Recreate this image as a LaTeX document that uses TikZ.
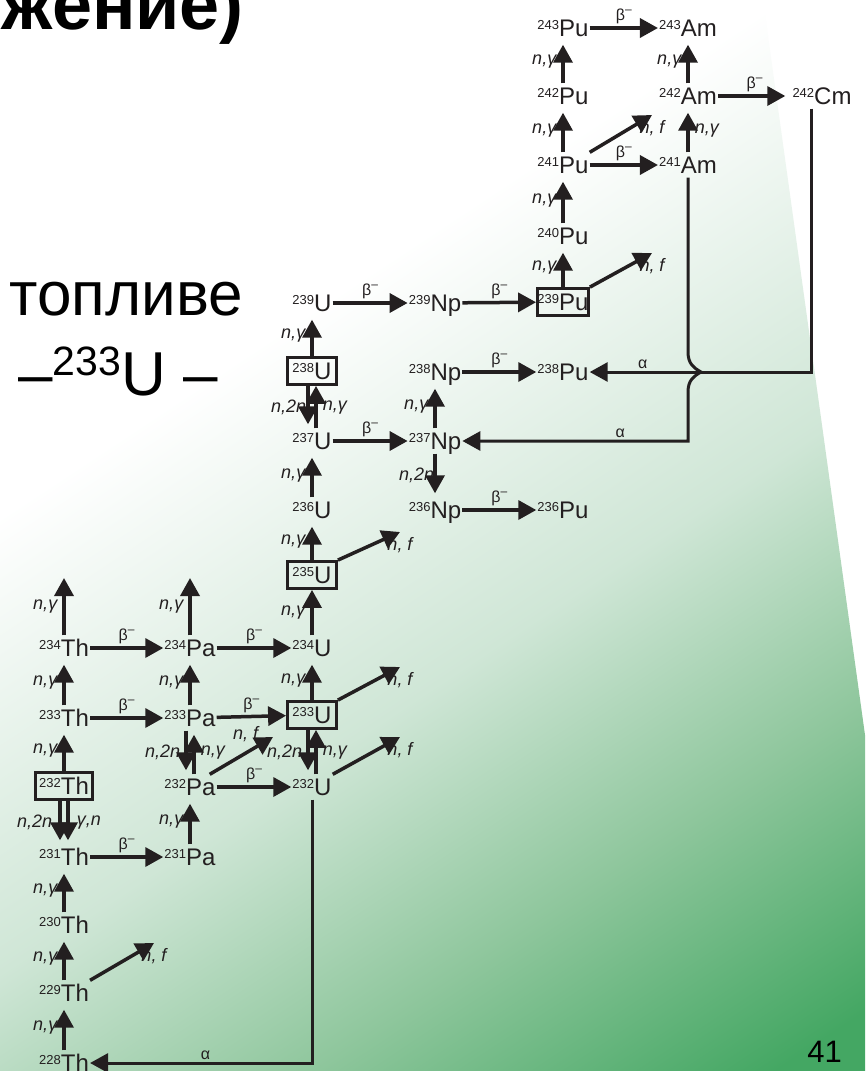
\documentclass[tikz,border=0pt]{standalone}
\usepackage{fontspec}
\setmainfont{Liberation Sans}
\usetikzlibrary{arrows.meta,calc}

\definecolor{ink}{HTML}{231F20}
\definecolor{fadelight}{HTML}{CFE6D6}
\definecolor{fademid}{HTML}{8EC69C}
\definecolor{fadegreen}{HTML}{44A763}

% slide background: white fading to green
\pgfdeclarehorizontalshading{slidefade}{100bp}{%
  color(0bp)=(white); color(42bp)=(white); color(54bp)=(fadelight);
  color(62bp)=(fademid); color(70bp)=(fadegreen); color(100bp)=(fadegreen)}

\newcommand{\iso}[2]{\raisebox{7.5pt}{\fontsize{13}{13}\selectfont#1}#2}
\newcommand{\betam}{β\raisebox{7pt}{\fontsize{12}{12}\selectfont –}}

\tikzset{
  nuc/.style={
    font=\fontsize{24}{24}\selectfont,
    text=ink,
    inner xsep=1pt,
    inner ysep=4pt,
    text height=17pt,
    text depth=0pt
  },
  fuel/.style={
    nuc,
    draw=ink,
    line width=2.8pt,
    inner xsep=5pt,
    inner ysep=5pt
  },
  rx/.style={draw=ink, line width=3.5pt, -{Triangle[length=18pt,width=19pt]}},
  vrx/.style={rx, shorten >=4pt},
  decay/.style={rx, line width=3pt},
  lbl/.style={font=\fontsize{18}{18}\selectfont\itshape, text=ink, inner sep=1pt},
  glbl/.style={font=\fontsize{16}{16}\selectfont, text=ink, inner sep=1pt},
  slidetext/.style={text=black, inner sep=0pt}
}

\begin{document}
\begin{tikzpicture}[x=1pt, y=-1pt]
  \useasboundingbox (0,0) rectangle (865,1071);
  \fill[white] (0,0) rectangle (865,1071);
  \begin{scope}
    \clip (0,505) -- (763,0) -- (865,735) -- (865,1071) -- (0,1071) -- cycle;
    \shade[shading=slidefade, shading angle=-56.5] (-368,-265) rectangle (1232,1335);
  \end{scope}

  % slide text around the chart
  \node[slidetext, anchor=base east, font=\fontsize{72}{72}\selectfont\bfseries] (heading) at (244,29) {жение)};
  \node[slidetext, anchor=base east, font=\fontsize{62}{62}\selectfont] (fueltext) at (243,315) {топливе};
  \node[slidetext, anchor=base west, font=\fontsize{62}{62}\selectfont] (chaintext) at (18,395) {–\raisebox{20pt}{\fontsize{41}{41}\selectfont 233}U –};
  \node[slidetext, anchor=base east, font=\fontsize{31}{31}\selectfont] (pageno) at (842,1062) {41};

  % thorium
  \node[nuc] (th234) at (64,648) {\iso{234}{Th}};
  \node[nuc] (th233) at (64,718) {\iso{233}{Th}};
  \node[fuel, inner xsep=4pt] (th232) at (64,786) {\iso{232}{Th}};
  \node[nuc] (th231) at (64,857) {\iso{231}{Th}};
  \node[nuc] (th230) at (64,925) {\iso{230}{Th}};
  \node[nuc] (th229) at (64,993) {\iso{229}{Th}};
  \node[nuc] (th228) at (64,1063) {\iso{228}{Th}};

  % protactinium
  \node[nuc] (pa234) at (190,648) {\iso{234}{Pa}};
  \node[nuc] (pa233) at (190,718) {\iso{233}{Pa}};
  \node[nuc] (pa232) at (190,787) {\iso{232}{Pa}};
  \node[nuc] (pa231) at (190,857) {\iso{231}{Pa}};

  % uranium
  \node[nuc] (u239) at (312,303) {\iso{239}{U}};
  \node[fuel] (u238) at (312,371) {\iso{238}{U}};
  \node[nuc] (u237) at (312,441) {\iso{237}{U}};
  \node[nuc] (u236) at (312,510) {\iso{236}{U}};
  \node[fuel] (u235) at (312,575) {\iso{235}{U}};
  \node[nuc] (u234) at (312,648) {\iso{234}{U}};
  \node[fuel] (u233) at (312,715) {\iso{233}{U}};
  \node[nuc] (u232) at (312,787) {\iso{232}{U}};

  % neptunium
  \node[nuc] (np239) at (435,303) {\iso{239}{Np}};
  \node[nuc] (np238) at (435,372) {\iso{238}{Np}};
  \node[nuc] (np237) at (435,441) {\iso{237}{Np}};
  \node[nuc] (np236) at (435,510) {\iso{236}{Np}};

  % plutonium
  \node[nuc] (pu243) at (563,28) {\iso{243}{Pu}};
  \node[nuc] (pu242) at (563,96) {\iso{242}{Pu}};
  \node[nuc] (pu241) at (563,165) {\iso{241}{Pu}};
  \node[nuc] (pu240) at (563,236) {\iso{240}{Pu}};
  \node[fuel, inner xsep=0pt] (pu239) at (563,302) {\iso{239}{Pu}};
  \node[nuc] (pu238) at (563,372) {\iso{238}{Pu}};
  \node[nuc] (pu236) at (563,510) {\iso{236}{Pu}};

  % americium, curium
  \node[nuc] (am243) at (688,28) {\iso{243}{Am}};
  \node[nuc] (am242) at (688,96) {\iso{242}{Am}};
  \node[nuc] (am241) at (688,165) {\iso{241}{Am}};
  \node[nuc] (cm242) at (822,96) {\iso{242}{Cm}};

  % open ends
  \coordinate (th235) at (64,578);
  \coordinate (pa235) at (190,578);
  \coordinate (nf229) at (154,943);
  \coordinate (nf232pa) at (273,737);
  \coordinate (nf232u) at (400,737);
  \coordinate (nf233) at (400,667);
  \coordinate (nf235) at (400,532);
  \coordinate (nf239) at (652,253);
  \coordinate (nf241) at (652,115);
  \coordinate (hop) at (am241 |- pu238);

  % thorium chain
  \draw[rx] (th234) -- node[lbl, left=4pt] {n,γ} (th235);
  \draw[vrx] (th233) -- node[lbl, left=4pt] {n,γ} (th234);
  \draw[vrx] (th232) -- node[lbl, left=4pt] {n,γ} (th233);
  \draw[vrx] ([xshift=-4pt]th232.south) -- node[lbl, left=5pt] {n,2n} ([xshift=-4pt]th231.north);
  \draw[vrx] ([xshift=4pt]th232.south) -- node[lbl, right=6pt] {γ,n} ([xshift=4pt]th231.north);
  \draw[vrx] (th230) -- node[lbl, left=4pt] {n,γ} (th231);
  \draw[vrx] (th229) -- node[lbl, left=4pt] {n,γ} (th230);
  \draw[vrx] (th228) -- node[lbl, left=4pt] {n,γ} (th229);
  \draw[rx] (th229.north east) -- (nf229) node[lbl, below=3pt] {n, f};
  \draw[rx] (th234) -- node[glbl, above=1pt] {\betam} (pa234);
  \draw[rx] (th233) -- node[glbl, above=1pt] {\betam} (pa233);
  \draw[rx] (th231) -- node[glbl, above=1pt] {\betam} (pa231);

  % protactinium chain
  \draw[rx] (pa234) -- node[lbl, left=4pt] {n,γ} (pa235);
  \draw[vrx] (pa233) -- node[lbl, left=4pt] {n,γ} (pa234);
  \draw[vrx] ([xshift=-4pt]pa233.south) -- node[lbl, left=3pt] {n,2n} ([xshift=-4pt]pa232.north);
  \draw[vrx] ([xshift=4pt]pa232.north) -- node[lbl, right=4pt] {n,γ} ([xshift=4pt]pa233.south);
  \draw[vrx] (pa231) -- node[lbl, left=4pt] {n,γ} (pa232);
  \draw[rx] ([xshift=-7pt]pa232.north east) -- (nf232pa) node[lbl, left=12pt, yshift=3pt] {n, f};
  \draw[rx] (pa234) -- node[glbl, above=1pt] {\betam} (u234);
  \draw[rx] (pa233) -- node[glbl, above=1pt] {\betam} (u233);
  \draw[rx] (pa232) -- node[glbl, above=1pt] {\betam} (u232);

  % uranium chain
  \draw[vrx] ([xshift=-4pt]u233.south) -- node[lbl, left=3pt] {n,2n} ([xshift=-4pt]u232.north);
  \draw[rx] ([xshift=4pt]u232.north) -- node[lbl, right=4pt] {n,γ} ([xshift=4pt]u233.south);
  \draw[rx] (u232.north east) -- (nf232u) node[lbl, below=3pt] {n, f};
  \draw[rx] (u233.north east) -- (nf233) node[lbl, below=3pt] {n, f};
  \draw[vrx] (u233) -- node[lbl, left=4pt] {n,γ} (u234);
  \draw[rx] (u234) -- node[lbl, left=4pt] {n,γ} (u235);
  \draw[rx] (u235.north east) -- (nf235) node[lbl, below=3pt] {n, f};
  \draw[vrx] (u235) -- node[lbl, left=4pt] {n,γ} (u236);
  \draw[vrx] (u236) -- node[lbl, left=4pt] {n,γ} (u237);
  \draw[vrx] ([xshift=-4pt]u238.south) -- node[lbl, left=-1pt] {n,2n} ([xshift=-4pt]u237.north);
  \draw[rx] ([xshift=4pt]u237.north) -- node[lbl, right=4pt] {n,γ} ([xshift=4pt]u238.south);
  \draw[vrx] (u238) -- node[lbl, left=4pt] {n,γ} (u239);
  \draw[rx] (u239) -- node[glbl, above=1pt] {\betam} (np239);
  \draw[rx] (u237) -- node[glbl, above=1pt] {\betam} (np237);
  \draw[decay] (u232) |- node[glbl, above=1pt, pos=0.74] {α} (th228);

  % neptunium chain
  \draw[rx] (np239) -- node[glbl, above=1pt] {\betam} (pu239);
  \draw[vrx] (np237) -- node[lbl, left=4pt] {n,γ} (np238);
  \draw[vrx] (np237) -- node[lbl, left=-2pt] {n,2n} (np236);
  \draw[rx] (np238) -- node[glbl, above=1pt] {\betam} (pu238);
  \draw[rx] (np236) -- node[glbl, above=1pt] {\betam} (pu236);

  % plutonium chain
  \draw[vrx] (pu239) -- node[lbl, left=4pt] {n,γ} (pu240);
  \draw[rx] (pu239.north east) -- (nf239) node[lbl, below=3pt] {n, f};
  \draw[vrx] (pu240) -- node[lbl, left=4pt] {n,γ} (pu241);
  \draw[vrx] (pu241) -- node[lbl, left=4pt] {n,γ} (pu242);
  \draw[rx] (pu241.north east) -- (nf241) node[lbl, below=3pt] {n, f};
  \draw[vrx] (pu242) -- node[lbl, left=4pt] {n,γ} (pu243);
  \draw[rx] (pu243) -- node[glbl, above=1pt] {\betam} (am243);
  \draw[rx] (pu241) -- node[glbl, above=1pt] {\betam} (am241);

  % americium, curium
  \draw[vrx] (am241) -- node[lbl, right=4pt] {n,γ} (am242);
  \draw[vrx] (am242) -- node[lbl, left=4pt] {n,γ} (am243);
  \draw[rx, shorten >=6pt] (am242) -- node[glbl, above=1pt] {\betam} (cm242);
  \draw[decay] ([xshift=-11pt]cm242.south) |- node[glbl, above=1pt, pos=0.88] {α} (pu238);
  \draw[decay] (am241) -- ($(hop)+(0,-20)$)
    .. controls +(0,12) and +(-7,-4) .. ($(hop)+(13,0)$)
    .. controls +(-7,4) and +(0,-12) .. ($(hop)+(0,20)$)
    -- (am241 |- np237) -- node[glbl, above=1pt, pos=0.3] {α} (np237);
\end{tikzpicture}
\end{document}
